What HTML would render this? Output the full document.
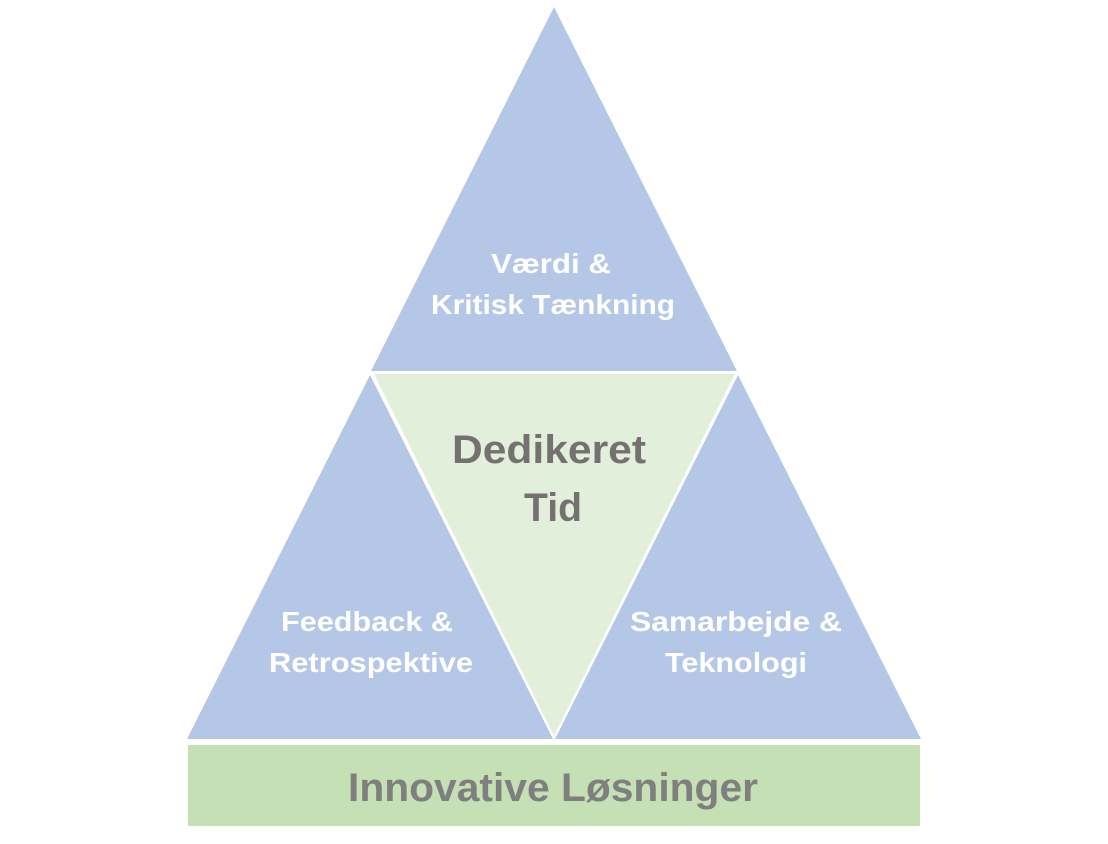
<!DOCTYPE html>
<html><head><meta charset="utf-8"><style>html,body{margin:0;padding:0;background:#fff;}svg{display:block}</style></head>
<body>
<svg width="1108" height="844" viewBox="0 0 1108 844" xmlns="http://www.w3.org/2000/svg" font-family="Liberation Sans, sans-serif" font-weight="bold">
<polygon points="554,7 737,371 371,371" fill="#b4c7e7"/>
<polygon points="370,375 553,739 187,739" fill="#b4c7e7"/>
<polygon points="738,375 921,739 555,739" fill="#b4c7e7"/>
<polygon points="374,374 735,374 554,736" fill="#e2efda"/>
<rect x="188" y="745" width="732" height="81" fill="#c5e0b4"/>
<g fill="#ffffff" font-size="28" text-anchor="middle">
<text x="551" y="273" textLength="120" lengthAdjust="spacingAndGlyphs">Værdi &amp;</text>
<text x="553" y="314" textLength="244" lengthAdjust="spacingAndGlyphs">Kritisk Tænkning</text>
<text x="367" y="631" textLength="172" lengthAdjust="spacingAndGlyphs">Feedback &amp;</text>
<text x="371" y="672" textLength="204" lengthAdjust="spacingAndGlyphs">Retrospektive</text>
<text x="736" y="631" textLength="212" lengthAdjust="spacingAndGlyphs">Samarbejde &amp;</text>
<text x="736" y="672" textLength="142" lengthAdjust="spacingAndGlyphs">Teknologi</text>
</g>
<g fill="#767171" font-size="40" text-anchor="middle">
<text x="549" y="463" textLength="194" lengthAdjust="spacingAndGlyphs">Dedikeret</text>
<text x="553" y="521" textLength="58" lengthAdjust="spacingAndGlyphs">Tid</text>
<text x="553" y="801" fill="#7f7f7f" textLength="410" lengthAdjust="spacingAndGlyphs">Innovative Løsninger</text>
</g>
</svg>
</body></html>
